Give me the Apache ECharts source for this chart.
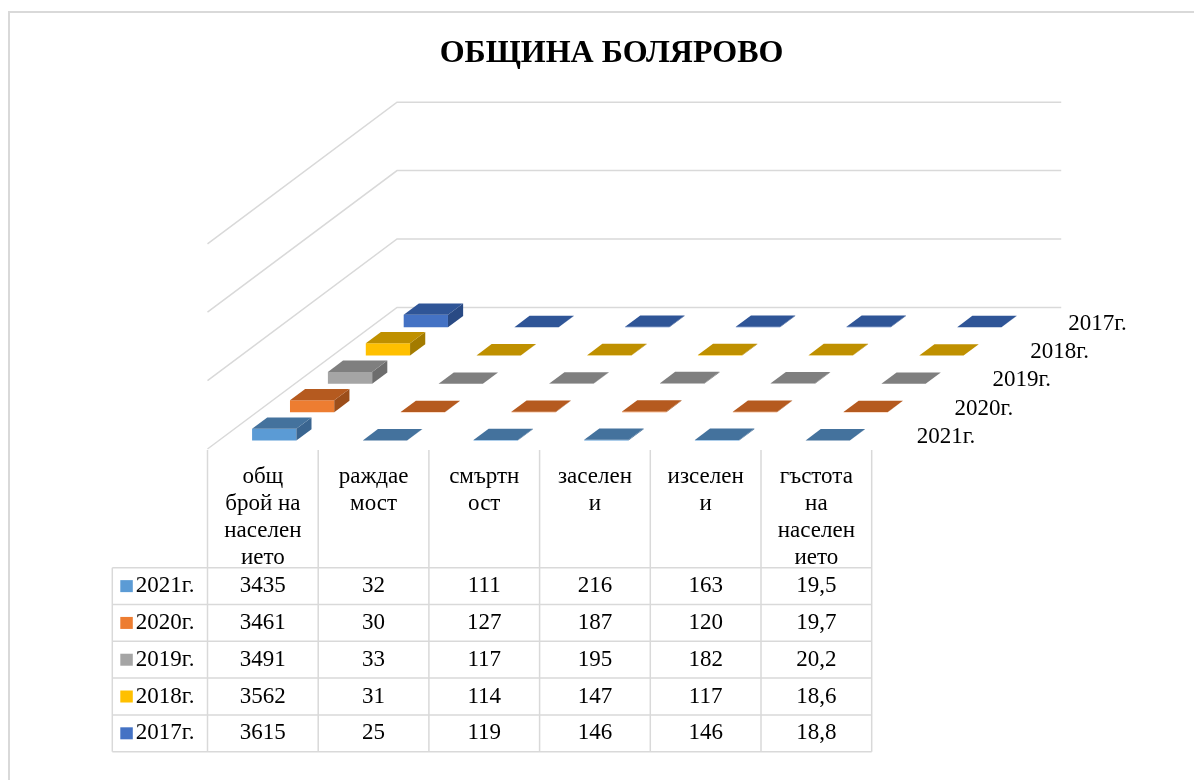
<!DOCTYPE html>
<html><head><meta charset="utf-8">
<script src="https://cdn.jsdelivr.net/npm/echarts@6/dist/echarts.min.js"></script>
<style>html,body{margin:0;padding:0;background:#fff}#chart{width:1194px;height:780px}</style>
</head><body><div id="chart"></div>
<script>
// ---------- data ----------
const chartTitle = 'ОБЩИНА БОЛЯРОВО';
const categories = ['общ брой на населението', 'раждаемост', 'смъртност', 'заселени', 'изселени', 'гъстота на населението'];
const headerLabels = ['общ\nброй на\nнаселен\nието', 'раждае\nмост', 'смъртн\nост', 'заселен\nи', 'изселен\nи', 'гъстота\nна\nнаселен\nието'];
const years = ['2021г.', '2020г.', '2019г.', '2018г.', '2017г.']; // front row first / table top first
const v2021 = [3435, 32, 111, 216, 163, 19.5];
const v2020 = [3461, 30, 127, 187, 120, 19.7];
const v2019 = [3491, 33, 117, 195, 182, 20.2];
const v2018 = [3562, 31, 114, 147, 117, 18.6];
const v2017 = [3615, 25, 119, 146, 146, 18.8];
const seriesValues = [v2021, v2020, v2019, v2018, v2017];
const valueTicks = [0, 20000, 40000, 60000];

// ---------- style ----------
const FONT = '"Liberation Serif", "Times New Roman", serif';
const frontColors = ['#5b9bd5', '#ed7d31', '#a5a5a5', '#ffc000', '#4472c4'];
const topColors   = ['#44729d', '#b55a1f', '#7f7f7f', '#bf9000', '#2f5597'];
const sideColors  = ['#3a6590', '#9c4e1a', '#6d6d6d', '#a37b00', '#294a84'];
const GRID_COLOR = '#d9d9d9';

// oblique projection: full depth expressed in axis units
const NROWS = years.length;
const NCATS = categories.length;
const DEPTH_X = 1.712;     // in category units
const DEPTH_Y = 41400;     // in value units
const dxRow = DEPTH_X / NROWS, dyRow = DEPTH_Y / NROWS;
const VMAX = valueTicks[valueTicks.length - 1];

function P(api, x, depth, val) {
  return api.coord([x + depth * dxRow, val + depth * dyRow]);
}

function barRenderer(i) {
  return function (params, api) {
    const c = api.value(0), v = api.value(1), d = i;
    const x0 = c + 0.3, x1 = c + 0.7, z0 = d + 0.3, z1 = d + 0.7;
    return {
      type: 'group',
      children: [
        { type: 'polygon', shape: { points: [P(api,x0,z0,0), P(api,x1,z0,0), P(api,x1,z0,v), P(api,x0,z0,v)] }, style: { fill: frontColors[i] } },
        { type: 'polygon', shape: { points: [P(api,x1,z0,0), P(api,x1,z1,0), P(api,x1,z1,v), P(api,x1,z0,v)] }, style: { fill: sideColors[i] } },
        { type: 'polygon', shape: { points: [P(api,x0,z0,v), P(api,x1,z0,v), P(api,x1,z1,v), P(api,x0,z1,v)] }, style: { fill: topColors[i] } }
      ]
    };
  };
}

const HEADER_TOP = -3.2;   // table header height in row units (above row 0)
const LABEL_COL = -0.86;   // row-label column left edge in column units

function fmt(v) { return String(v).replace('.', ','); }

const series = [];
// walls
series.push({
  type: 'custom', xAxisIndex: 0, yAxisIndex: 0, z: 1, silent: true,
  data: valueTicks.map(t => [0, t]),
  renderItem: function (params, api) {
    const t = api.value(1);
    return { type: 'polyline', shape: { points: [P(api,0,0,t), P(api,0,NROWS,t), P(api,NCATS,NROWS,t)] },
      style: { stroke: GRID_COLOR, lineWidth: 1.5, fill: null } };
  }
});
// bars, back rows first
for (let i = NROWS - 1; i >= 0; i--) {
  series.push({
    type: 'custom', name: years[i], xAxisIndex: 0, yAxisIndex: 0, z: 2,
    data: seriesValues[i].map((v, c) => [c, v]),
    renderItem: barRenderer(i)
  });
}
// depth axis labels
series.push({
  type: 'custom', xAxisIndex: 0, yAxisIndex: 0, z: 3, silent: true,
  data: years.map((y, d) => [NCATS, d]),
  renderItem: function (params, api) {
    const d = api.value(1);
    const p = P(api, NCATS, d + 0.5, 0);
    return { type: 'text', x: p[0] + 26, y: p[1] + 2,
      style: { text: years[d], font: '23px ' + FONT, fill: '#000', align: 'left', verticalAlign: 'middle' } };
  }
});
// table lines: [kind, pos]  kind 0 = column boundary, 1 = row boundary, 2 = label column left edge
const tableLines = [];
for (let c = 0; c <= NCATS; c++) tableLines.push([0, c]);
for (let r = 0; r <= NROWS; r++) tableLines.push([1, r]);
tableLines.push([2, LABEL_COL]);
series.push({
  type: 'custom', xAxisIndex: 1, yAxisIndex: 1, z: 1, silent: true,
  data: tableLines,
  renderItem: function (params, api) {
    const k = api.value(0), p = api.value(1);
    let a, b;
    if (k === 0) { a = api.coord([p, HEADER_TOP]); b = api.coord([p, NROWS]); }
    else if (k === 1) { a = api.coord([LABEL_COL, p]); b = api.coord([NCATS, p]); }
    else { a = api.coord([p, 0]); b = api.coord([p, NROWS]); }
    return { type: 'line', shape: { x1: a[0], y1: a[1], x2: b[0], y2: b[1] },
      style: { stroke: GRID_COLOR, lineWidth: 1.5 } };
  }
});
// header labels
series.push({
  type: 'custom', xAxisIndex: 1, yAxisIndex: 1, z: 3, silent: true,
  data: headerLabels.map((h, c) => [c, HEADER_TOP]),
  renderItem: function (params, api) {
    const c = api.value(0);
    const p = api.coord([c + 0.5, HEADER_TOP]);
    return { type: 'text', x: p[0], y: p[1] + 13,
      style: { text: headerLabels[c], font: '23px ' + FONT, lineHeight: 27, fill: '#000', align: 'center', verticalAlign: 'top' } };
  }
});
// table cells
const cells = [];
for (let r = 0; r < NROWS; r++) for (let c = 0; c < NCATS; c++) cells.push([c, r]);
series.push({
  type: 'custom', xAxisIndex: 1, yAxisIndex: 1, z: 3, silent: true,
  data: cells,
  renderItem: function (params, api) {
    const c = api.value(0), r = api.value(1);
    const p = api.coord([c + 0.5, r + 0.5]);
    return { type: 'text', x: p[0], y: p[1],
      style: { text: fmt(seriesValues[r][c]), font: '23px ' + FONT, fill: '#000', align: 'center', verticalAlign: 'middle' } };
  }
});
// row labels with legend keys
series.push({
  type: 'custom', xAxisIndex: 1, yAxisIndex: 1, z: 3, silent: true,
  data: years.map((y, r) => [LABEL_COL, r]),
  renderItem: function (params, api) {
    const r = api.value(1);
    const p = api.coord([LABEL_COL, r + 0.5]);
    return { type: 'group', children: [
      { type: 'rect', shape: { x: p[0] + 8, y: p[1] - 6, width: 12.5, height: 12 }, style: { fill: frontColors[r] } },
      { type: 'text', x: p[0] + 23.5, y: p[1], style: { text: years[r], font: '23px ' + FONT, fill: '#000', align: 'left', verticalAlign: 'middle' } }
    ] };
  }
});

const chart = echarts.init(document.getElementById('chart'), null, { renderer: 'canvas' });
chart.setOption({
  animation: false,
  backgroundColor: '#fff',
  title: {
    text: chartTitle, left: 606.5, textAlign: 'center', top: 33,
    textStyle: { fontFamily: FONT, fontWeight: 'bold', fontSize: 32, color: '#000' }
  },
  graphic: [{
    type: 'rect', shape: { x: 9, y: 12, width: 1300, height: 900 },
    style: { fill: null, stroke: '#d9d9d9', lineWidth: 2 }, silent: true, z: -1
  }],
  grid: [
    { left: 207.5, top: 102.2, width: 110.7 * (NCATS + DEPTH_X), height: 346.8 },
    { left: 207.5, top: 450, width: 664.2, height: 301.7 }
  ],
  xAxis: [
    { type: 'value', gridIndex: 0, min: 0, max: NCATS + DEPTH_X, show: false },
    { type: 'value', gridIndex: 1, min: 0, max: NCATS, show: false }
  ],
  yAxis: [
    { type: 'value', gridIndex: 0, min: 0, max: VMAX + DEPTH_Y, show: false },
    { type: 'value', gridIndex: 1, min: HEADER_TOP, max: NROWS, inverse: true, show: false }
  ],
  series: series
});
</script>
</body></html>
